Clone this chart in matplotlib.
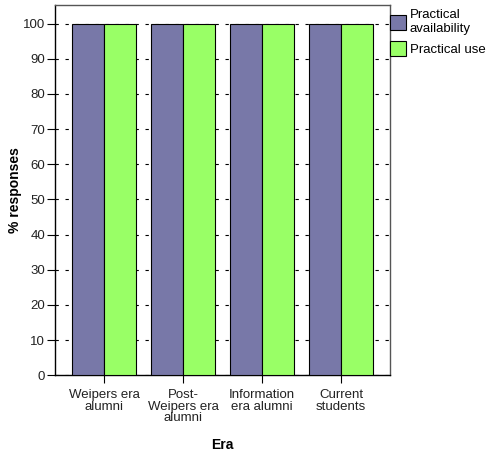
import numpy as np
import matplotlib
matplotlib.use("Agg")
import matplotlib.pyplot as plt

plt.rcParams["font.family"] = ["Liberation Sans", "DejaVu Sans"]
plt.rcParams["font.size"] = 9.5

# Data
eras = ["Weipers era\nalumni", "Post-\nWeipers era\nalumni", "Information\nera alumni", "Current\nstudents"]
availability = [100, 100, 100, 100]
use = [100, 100, 100, 100]
series_labels = ["Practical\navailability", "Practical use"]

fig = plt.figure(figsize=(4.87, 4.57), dpi=100)
ax = fig.add_axes([0.113, 0.179, 0.688, 0.811])

x = np.arange(len(eras))
w = 0.405
ax.bar(x - w / 2, availability, w, color="#7878A8", edgecolor="black", linewidth=0.8,
       label=series_labels[0], zorder=3)
ax.bar(x + w / 2, use, w, color="#99FF66", edgecolor="black", linewidth=0.8,
       label=series_labels[1], zorder=3)

ax.set_xlim(-0.62, 3.62)
ax.set_ylim(0, 105.4)
ax.set_yticks(np.arange(0, 101, 10))
ax.set_xticks(x)
ax.set_xticklabels(eras, linespacing=0.95)
ax.yaxis.grid(True, linestyle=(0, (3, 6)), color="black", linewidth=0.8, zorder=0)
ax.tick_params(axis="both", direction="out", length=6, width=0.8, colors="black",
               labelcolor="#222222")
ax.tick_params(axis="y", pad=1)
ax.tick_params(axis="x", pad=4)

for s in ["left", "bottom"]:
    ax.spines[s].set_color("black")
    ax.spines[s].set_linewidth(1.0)
for s in ["top", "right"]:
    ax.spines[s].set_color("#555555")
    ax.spines[s].set_linewidth(1.0)

ax.set_ylabel("% responses", fontweight="bold", fontsize=10, labelpad=1)
ax.set_xlabel("Era", fontweight="bold", fontsize=10, labelpad=10)

ax.legend(loc="upper left", bbox_to_anchor=(1.0, 0.987), frameon=False,
          handlelength=1.2, handleheight=1.4, handletextpad=0.3,
          labelspacing=0.45, borderaxespad=0.0, borderpad=0.0,
          fontsize=9.5)

fig.savefig("out.png", dpi=100)
